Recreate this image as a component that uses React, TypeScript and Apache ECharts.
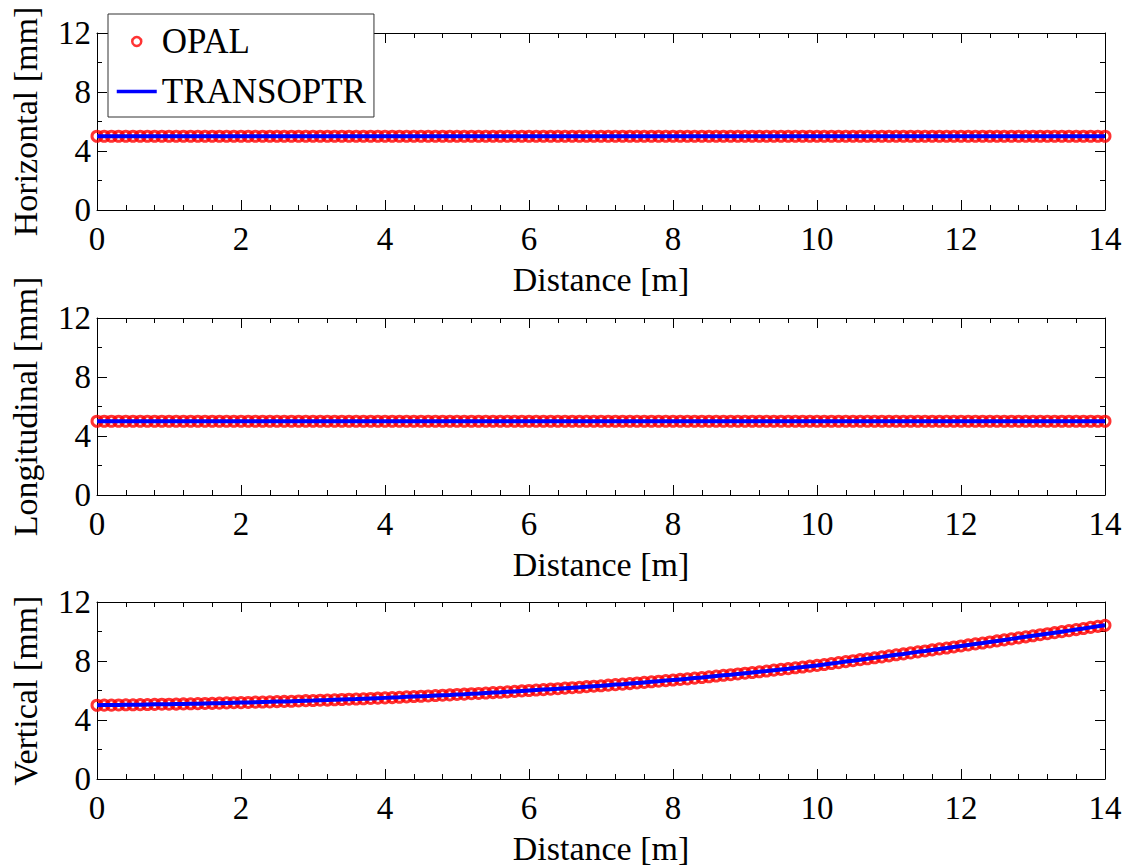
import React, { useEffect, useRef } from "react";
import * as echarts from "echarts";

// Distance along the beamline [m]
const distance = [
  0.0, 0.1, 0.2, 0.3, 0.4, 0.5, 0.6, 0.7, 0.8, 0.9,
  1.0, 1.1, 1.2, 1.3, 1.4, 1.5, 1.6, 1.7, 1.8, 1.9,
  2.0, 2.1, 2.2, 2.3, 2.4, 2.5, 2.6, 2.7, 2.8, 2.9,
  3.0, 3.1, 3.2, 3.3, 3.4, 3.5, 3.6, 3.7, 3.8, 3.9,
  4.0, 4.1, 4.2, 4.3, 4.4, 4.5, 4.6, 4.7, 4.8, 4.9,
  5.0, 5.1, 5.2, 5.3, 5.4, 5.5, 5.6, 5.7, 5.8, 5.9,
  6.0, 6.1, 6.2, 6.3, 6.4, 6.5, 6.6, 6.7, 6.8, 6.9,
  7.0, 7.1, 7.2, 7.3, 7.4, 7.5, 7.6, 7.7, 7.8, 7.9,
  8.0, 8.1, 8.2, 8.3, 8.4, 8.5, 8.6, 8.7, 8.8, 8.9,
  9.0, 9.1, 9.2, 9.3, 9.4, 9.5, 9.6, 9.7, 9.8, 9.9,
  10.0, 10.1, 10.2, 10.3, 10.4, 10.5, 10.6, 10.7, 10.8, 10.9,
  11.0, 11.1, 11.2, 11.3, 11.4, 11.5, 11.6, 11.7, 11.8, 11.9,
  12.0, 12.1, 12.2, 12.3, 12.4, 12.5, 12.6, 12.7, 12.8, 12.9,
  13.0, 13.1, 13.2, 13.3, 13.4, 13.5, 13.6, 13.7, 13.8, 13.9,
  14.0,
];

// Horizontal envelope [mm]
const horizontalMm = [
  5, 5, 5, 5, 5, 5, 5, 5, 5, 5,
  5, 5, 5, 5, 5, 5, 5, 5, 5, 5,
  5, 5, 5, 5, 5, 5, 5, 5, 5, 5,
  5, 5, 5, 5, 5, 5, 5, 5, 5, 5,
  5, 5, 5, 5, 5, 5, 5, 5, 5, 5,
  5, 5, 5, 5, 5, 5, 5, 5, 5, 5,
  5, 5, 5, 5, 5, 5, 5, 5, 5, 5,
  5, 5, 5, 5, 5, 5, 5, 5, 5, 5,
  5, 5, 5, 5, 5, 5, 5, 5, 5, 5,
  5, 5, 5, 5, 5, 5, 5, 5, 5, 5,
  5, 5, 5, 5, 5, 5, 5, 5, 5, 5,
  5, 5, 5, 5, 5, 5, 5, 5, 5, 5,
  5, 5, 5, 5, 5, 5, 5, 5, 5, 5,
  5, 5, 5, 5, 5, 5, 5, 5, 5, 5,
  5,
];

// Longitudinal envelope [mm]
const longitudinalMm = [
  5, 5, 5, 5, 5, 5, 5, 5, 5, 5,
  5, 5, 5, 5, 5, 5, 5, 5, 5, 5,
  5, 5, 5, 5, 5, 5, 5, 5, 5, 5,
  5, 5, 5, 5, 5, 5, 5, 5, 5, 5,
  5, 5, 5, 5, 5, 5, 5, 5, 5, 5,
  5, 5, 5, 5, 5, 5, 5, 5, 5, 5,
  5, 5, 5, 5, 5, 5, 5, 5, 5, 5,
  5, 5, 5, 5, 5, 5, 5, 5, 5, 5,
  5, 5, 5, 5, 5, 5, 5, 5, 5, 5,
  5, 5, 5, 5, 5, 5, 5, 5, 5, 5,
  5, 5, 5, 5, 5, 5, 5, 5, 5, 5,
  5, 5, 5, 5, 5, 5, 5, 5, 5, 5,
  5, 5, 5, 5, 5, 5, 5, 5, 5, 5,
  5, 5, 5, 5, 5, 5, 5, 5, 5, 5,
  5,
];

// Vertical envelope [mm]
const verticalMm = [
  5.00, 5.01, 5.01, 5.02, 5.03, 5.03, 5.04, 5.05, 5.06, 5.07,
  5.07, 5.08, 5.09, 5.10, 5.11, 5.12, 5.13, 5.14, 5.16, 5.17,
  5.18, 5.19, 5.21, 5.22, 5.23, 5.25, 5.26, 5.27, 5.29, 5.31,
  5.32, 5.34, 5.35, 5.37, 5.39, 5.41, 5.42, 5.44, 5.46, 5.48,
  5.50, 5.52, 5.54, 5.57, 5.59, 5.61, 5.63, 5.66, 5.68, 5.70,
  5.73, 5.75, 5.78, 5.80, 5.83, 5.86, 5.88, 5.91, 5.94, 5.97,
  6.00, 6.03, 6.06, 6.09, 6.12, 6.16, 6.19, 6.22, 6.26, 6.29,
  6.32, 6.36, 6.40, 6.43, 6.47, 6.51, 6.55, 6.59, 6.63, 6.67,
  6.71, 6.75, 6.79, 6.84, 6.88, 6.93, 6.98, 7.03, 7.07, 7.12,
  7.17, 7.22, 7.27, 7.32, 7.38, 7.43, 7.48, 7.54, 7.59, 7.65,
  7.70, 7.76, 7.83, 7.89, 7.96, 8.02, 8.09, 8.15, 8.22, 8.28,
  8.35, 8.42, 8.48, 8.55, 8.62, 8.68, 8.75, 8.82, 8.88, 8.95,
  9.02, 9.09, 9.16, 9.22, 9.29, 9.36, 9.43, 9.50, 9.57, 9.64,
  9.71, 9.78, 9.85, 9.92, 9.99, 10.06, 10.13, 10.20, 10.28, 10.35,
  10.42,
];

const panels = [
  { yName: "Horizontal [mm]", values: horizontalMm },
  { yName: "Longitudinal [mm]", values: longitudinalMm },
  { yName: "Vertical [mm]", values: verticalMm },
];

const xTicks = { min: 0, max: 14, interval: 2 };
const yTicks = { min: 0, max: 12, interval: 4 };

const FONT = "'Liberation Serif', 'Times New Roman', serif";

export default function App() {
  const ref = useRef<HTMLDivElement>(null);

  useEffect(() => {
    if (!ref.current) return;
    const chart = echarts.init(ref.current, null, { renderer: "svg" });

    const gridTops = [33, 318, 602];
    const grid = gridTops.map((top) => ({ left: 96, right: 26, top, height: 177 }));

    const axisLine = { show: true, onZero: false, lineStyle: { color: "#000", width: 1 } };
    const tickStyle = { color: "#000", width: 1 };

    const xAxis: any[] = [];
    const yAxis: any[] = [];
    const series: any[] = [];

    panels.forEach((p, i) => {
      xAxis.push({
        gridIndex: i,
        type: "value",
        position: "bottom",
        ...xTicks,
        axisLine,
        axisTick: { show: true, inside: true, length: 10, lineStyle: tickStyle },
        minorTick: { show: true, splitNumber: 5, length: 5, lineStyle: tickStyle },
        splitLine: { show: false },
        axisLabel: { color: "#000", fontFamily: FONT, fontSize: 33, margin: 12 },
        name: "Distance [m]",
        nameLocation: "middle",
        nameGap: 52,
        nameTextStyle: { color: "#000", fontFamily: FONT, fontSize: 34 },
      });
      xAxis.push({
        gridIndex: i,
        type: "value",
        position: "top",
        ...xTicks,
        axisLine,
        axisTick: { show: true, inside: true, length: 10, lineStyle: tickStyle },
        minorTick: { show: true, splitNumber: 5, length: 5, lineStyle: tickStyle },
        splitLine: { show: false },
        axisLabel: { show: false },
      });
      yAxis.push({
        gridIndex: i,
        type: "value",
        position: "left",
        ...yTicks,
        axisLine,
        axisTick: { show: true, inside: true, length: 10, lineStyle: tickStyle },
        minorTick: { show: true, splitNumber: 2, length: 5, lineStyle: tickStyle },
        splitLine: { show: false },
        axisLabel: { color: "#000", fontFamily: FONT, fontSize: 33, margin: 6 },
        name: p.yName,
        nameLocation: "middle",
        nameGap: 55,
        nameTextStyle: { color: "#000", fontFamily: FONT, fontSize: 34 },
      });
      yAxis.push({
        gridIndex: i,
        type: "value",
        position: "right",
        ...yTicks,
        axisLine,
        axisTick: { show: true, inside: true, length: 10, lineStyle: tickStyle },
        minorTick: { show: true, splitNumber: 2, length: 5, lineStyle: tickStyle },
        splitLine: { show: false },
        axisLabel: { show: false },
      });

      const pts = distance.map((d, k) => [d, p.values[k]]);
      series.push({
        name: "OPAL",
        type: "scatter",
        xAxisIndex: 2 * i,
        yAxisIndex: 2 * i,
        data: pts,
        symbol: "circle",
        symbolSize: 10,
        itemStyle: { color: "transparent", borderColor: "#ff0000", borderWidth: 3 },
        z: 2,
      });
      series.push({
        name: "TRANSOPTR",
        type: "line",
        xAxisIndex: 2 * i,
        yAxisIndex: 2 * i,
        data: pts,
        showSymbol: false,
        symbol: "none",
        lineStyle: { color: "#0000ff", width: 4 },
        itemStyle: { color: "#0000ff" },
        z: 3,
      });
    });

    chart.setOption({
      animation: false,
      backgroundColor: "#fff",
      grid,
      xAxis,
      yAxis,
      series,
      legend: {
        left: 108,
        top: 14,
        orient: "vertical",
        backgroundColor: "#fff",
        borderColor: "#333",
        borderWidth: 1,
        padding: [10, 8, 8, 7],
        itemWidth: 40,
        itemHeight: 9,
        itemGap: 15,
        textStyle: { color: "#000", fontFamily: FONT, fontSize: 35 },
        data: [
          {
            name: "OPAL",
            icon: "circle",
            itemStyle: { color: "transparent", borderColor: "#ff0000", borderWidth: 2.5 },
          },
          {
            name: "TRANSOPTR",
            itemStyle: { color: "transparent", borderColor: "transparent", borderWidth: 0 },
            lineStyle: { color: "#0000ff", width: 3.5 },
          },
        ],
      },
    });

    return () => chart.dispose();
  }, []);

  return (
    <div
      ref={ref}
      style={{ position: "absolute", left: 0, top: 0, width: 1131, height: 867 }}
    />
  );
}
